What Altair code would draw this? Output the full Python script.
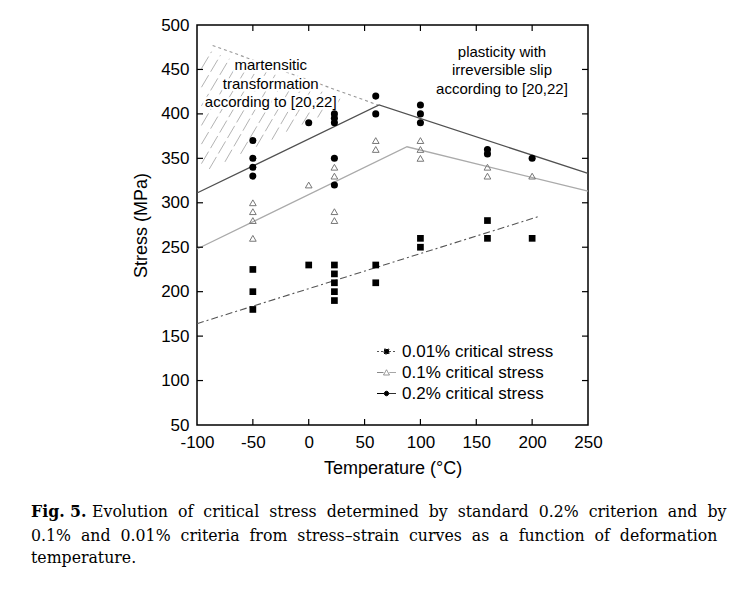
import altair as alt
import pandas as pd

# ---------------- data ----------------
sq_x = [-50, -50, -50, 0, 23, 23, 23, 23, 23, 60, 60, 100, 100, 160, 160, 200]
sq_y = [225, 200, 180, 230, 230, 220, 210, 200, 190, 230, 210, 260, 250, 280, 260, 260]

tri_x = [-50, -50, -50, -50, 0, 23, 23, 23, 23, 60, 60, 100, 100, 100, 160, 160, 200]
tri_y = [300, 290, 280, 260, 320, 340, 330, 290, 280, 370, 360, 370, 360, 350, 340, 330, 330]

cir_x = [-50, -50, -50, -50, 0, 23, 23, 23, 23, 23, 60, 60, 100, 100, 100, 160, 160, 200]
cir_y = [370, 350, 340, 330, 390, 400, 395, 390, 350, 320, 420, 400, 410, 400, 390, 360, 355, 350]

# trend lines (as drawn in the figure)
l02_x = [-100, 63, 250]
l02_y = [311, 410, 333]
l01_x = [-100, 88, 250]
l01_y = [248, 363, 313]
l001_x = [-100, 207]
l001_y = [164, 285]
dot_x = [-86, 62]
dot_y = [477, 410]

# hatch strokes of the "martensitic transformation" region
h_x1 = [-96, -96, -96, -96, -96, -96, -89, -75, -61, -47, -33, -20, -6, 8, 22]
h_y1 = [451, 430, 409, 387, 366, 344, 338, 346, 355, 363, 371, 380, 388, 396, 405]
h_x2 = [-87, -79, -71, -63, -54, -46, -38, -30, -21, -13, -5, 3, 12, 20, 28]
h_y2 = [470, 466, 462, 458, 455, 451, 447, 444, 440, 436, 432, 429, 425, 421, 417]

ann1_text = ["martensitic", "transformation", "according to [20,22]"]
ann1_x = [-34, -34, -34]
ann1_y = [455, 434, 413]
ann2_text = ["plasticity with", "irreversible slip", "according to [20,22]"]
ann2_x = [173, 173, 173]
ann2_y = [470, 449, 428]

series = ["0.01% critical stress", "0.1% critical stress", "0.2% critical stress"]

x_labels = [-100, -50, 0, 50, 100, 150, 200, 250]
x_ticks = [-50, 0, 50, 100, 150, 200]
y_labels = [50, 100, 150, 200, 250, 300, 350, 400, 450, 500]
y_ticks = [100, 150, 200, 250, 300, 350, 400, 450]

cap1_bold = "Fig. 5."
cap1 = "Evolution of critical stress determined by standard 0.2% criterion and by"
cap2 = "0.1% and 0.01% criteria from stress\u2013strain curves as a function of deformation"
cap3 = "temperature."

# ---------------- frames ----------------
sq = pd.DataFrame({"x": sq_x, "y": sq_y})
tri = pd.DataFrame({"x": tri_x, "y": tri_y})
cir = pd.DataFrame({"x": cir_x, "y": cir_y})
d02 = pd.DataFrame({"x": l02_x, "y": l02_y})
d01 = pd.DataFrame({"x": l01_x, "y": l01_y})
d001 = pd.DataFrame({"x": l001_x, "y": l001_y})
ddot = pd.DataFrame({"x": dot_x, "y": dot_y})
hatch = pd.DataFrame({"x": h_x1, "y": h_y1, "x2": h_x2, "y2": h_y2})
ann1 = pd.DataFrame({"t": ann1_text, "x": ann1_x, "y": ann1_y})
ann2 = pd.DataFrame({"t": ann2_text, "x": ann2_x, "y": ann2_y})
leg = pd.DataFrame({"s": series})
xt = pd.DataFrame({"x": x_ticks})
yt = pd.DataFrame({"y": y_ticks})

W, H = 391, 400
TL = 6  # inward tick length (px)
FONT = "Liberation Sans"
xs = alt.Scale(domain=[-100, 250], nice=False, zero=False)
ys = alt.Scale(domain=[50, 500], nice=False, zero=False)

LBL = "datum.value < 0 ? '-' + abs(datum.value) : '' + datum.value"
ax_x_main = alt.Axis(values=x_labels, orient="bottom", title="Temperature (\u00b0C)", ticks=False,
                     domain=False, grid=False, labelFontSize=17, labelFont=FONT, labelColor="black",
                     titleFontSize=18, titleFont=FONT, titleFontWeight="normal", titleColor="black",
                     labelPadding=9, titlePadding=9, labelFlush=False, labelOverlap=False,
                     labelExpr=LBL)
ax_y_main = alt.Axis(values=y_labels, orient="left", title="Stress (MPa)", ticks=False,
                     domain=False, grid=False, labelFontSize=17, labelFont=FONT, labelColor="black",
                     titleFontSize=18, titleFont=FONT, titleFontWeight="normal", titleColor="black",
                     labelPadding=8, titlePadding=10, labelFlush=False, labelOverlap=False)

XX = lambda f="x": alt.X(f"{f}:Q", scale=xs)
YY = lambda f="y": alt.Y(f"{f}:Q", scale=ys)

# hatch layer carries the shared axes
hatch_l = alt.Chart(hatch).mark_rule(color="#a0a0a0", strokeWidth=0.8, strokeDash=[14, 4]).encode(
    x=alt.X("x:Q", scale=xs, axis=ax_x_main), y=alt.Y("y:Q", scale=ys, axis=ax_y_main),
    x2="x2:Q", y2="y2:Q")

# inward ticks on all four sides
tick_style = dict(color="black", strokeWidth=1.2)
tk_bottom = alt.Chart(xt).mark_rule(**tick_style).encode(x=XX(), y=alt.value(H), y2=alt.value(H - TL))
tk_top = alt.Chart(xt).mark_rule(**tick_style).encode(x=XX(), y=alt.value(0), y2=alt.value(TL))
tk_left = alt.Chart(yt).mark_rule(**tick_style).encode(y=YY(), x=alt.value(0), x2=alt.value(TL))
tk_right = alt.Chart(yt).mark_rule(**tick_style).encode(y=YY(), x=alt.value(W), x2=alt.value(W - TL))

line02 = alt.Chart(d02).mark_line(color="#505050", strokeWidth=1.3).encode(x=XX(), y=YY())
line01 = alt.Chart(d01).mark_line(color="#aaaaaa", strokeWidth=1.3).encode(x=XX(), y=YY())
line001 = alt.Chart(d001).mark_line(color="#555555", strokeWidth=1.1, strokeDash=[7, 3, 2, 3]).encode(
    x=XX(), y=YY())
linedot = alt.Chart(ddot).mark_line(color="#999999", strokeWidth=1.1, strokeDash=[3, 3]).encode(
    x=XX(), y=YY())

pts_sq = alt.Chart(sq).mark_point(shape="square", filled=True, color="black", size=45, opacity=1).encode(
    x=XX(), y=YY())
pts_tri = alt.Chart(tri).mark_point(shape="triangle-up", filled=False, color="#777777", size=45,
                                    strokeWidth=1, opacity=1).encode(x=XX(), y=YY())
pts_cir = alt.Chart(cir).mark_point(shape="circle", filled=True, color="black", size=50, opacity=1).encode(
    x=XX(), y=YY())

def ann_layers(df):
    halo = alt.Chart(df).mark_text(font=FONT, fontSize=15, color="white", stroke="white",
                                   strokeWidth=5, align="center", baseline="middle").encode(
        x=XX(), y=YY(), text="t:N")
    txt = alt.Chart(df).mark_text(font=FONT, fontSize=15, color="black", align="center",
                                  baseline="middle").encode(x=XX(), y=YY(), text="t:N")
    return [halo, txt]

# legend built by the library from a (filtered-out) layer with custom symbols
sq_path = "M-1.9,0H-0.5M0.5,0H1.9M-0.5,-0.5H0.5V0.5H-0.5Z"
tri_path = "M-1.9,0H-0.6M0.6,0H1.9M-0.6,0.5L0,-0.55L0.6,0.5Z"
cir_path = "M-1.9,0H-0.45M0.45,0H1.9M-0.45,0A0.45,0.45 0 1,1 0.45,0A0.45,0.45 0 1,1 -0.45,0Z"
LEG = alt.Legend(title=None, orient="none", legendX=181, legendY=318, padding=0,
                 symbolSize=100, symbolStrokeWidth=1, labelFont=FONT, labelFontSize=17,
                 labelColor="black", labelOffset=7, rowPadding=3, symbolOpacity=1)
legend_l = alt.Chart(leg).mark_point(opacity=1).encode(
    shape=alt.Shape("s:N", scale=alt.Scale(domain=series, range=[sq_path, tri_path, cir_path]), legend=LEG),
    fill=alt.Fill("s:N", scale=alt.Scale(domain=series, range=["black", "white", "black"]), legend=LEG),
    stroke=alt.Stroke("s:N", scale=alt.Scale(domain=series, range=["#555555", "#888888", "black"]), legend=LEG),
    strokeDash=alt.StrokeDash("s:N", scale=alt.Scale(domain=series, range=[[2, 2], [1, 0], [1, 0]]), legend=LEG),
).transform_filter("false")

CAPFONT = "DejaVu Serif Condensed, Liberation Serif, serif"
WIDE = " \u00a0"  # widened word gap, imitating the justified caption
def cap_text(txt, px, py, bold=False, justify=False):
    shown = txt.replace(" ", WIDE) if justify else txt
    return alt.Chart(pd.DataFrame({"t": [shown]})).mark_text(
        font=CAPFONT, fontSize=17.5, fontWeight="bold" if bold else "normal", color="black",
        align="left", baseline="middle").encode(text="t:N", x=alt.value(px), y=alt.value(py))

caps = [cap_text(cap1_bold, -166, 487, True), cap_text(cap1, -105, 487, justify=True),
        cap_text(cap2, -166, 511, justify=True), cap_text(cap3, -166, 533)]

chart = alt.layer(
    hatch_l, linedot, line01, line02, line001,
    *ann_layers(ann1), *ann_layers(ann2),
    tk_bottom, tk_top, tk_left, tk_right,
    pts_tri, pts_sq, pts_cir, legend_l, *caps
).properties(
    width=W, height=H,
    autosize=alt.AutoSizeParams(type="none"),
    padding={"left": 189, "top": 17, "right": 150, "bottom": 150},
).configure(background="white", view=alt.ViewConfig(stroke="black", strokeWidth=1.5))

chart.save("out.html", embed_options={"renderer": "svg", "actions": False})
